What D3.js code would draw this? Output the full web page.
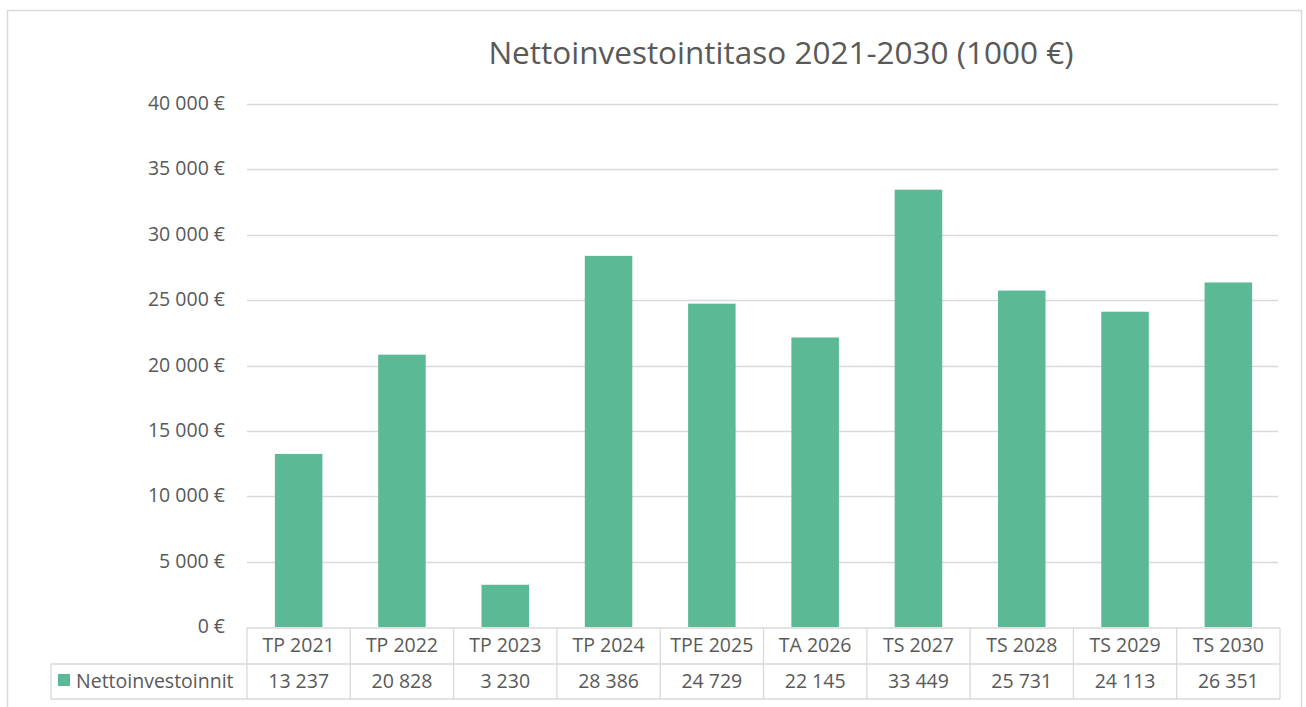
<!DOCTYPE html>
<html>
<head>
<meta charset="utf-8">
<script src="https://cdn.jsdelivr.net/npm/d3@7"></script>
<style>
  body { margin: 0; background: #fff; }
  svg { display: block; font-family: "Open Sans", "Noto Sans", sans-serif; }
</style>
</head>
<body>
<svg id="chart" width="1306" height="707"></svg>
<script>
// chart data
var categories = ["TP 2021", "TP 2022", "TP 2023", "TP 2024", "TPE 2025", "TA 2026", "TS 2027", "TS 2028", "TS 2029", "TS 2030"];
var values = [13237, 20828, 3230, 28386, 24729, 22145, 33449, 25731, 24113, 26351];
var valueLabels = ["13 237", "20 828", "3 230", "28 386", "24 729", "22 145", "33 449", "25 731", "24 113", "26 351"];
var yTicks = [0, 5000, 10000, 15000, 20000, 25000, 30000, 35000, 40000];
var seriesName = "Nettoinvestoinnit";
var title = "Nettoinvestointitaso 2021-2030 (1000 €)";

var svg = d3.select("#chart");
var textColor = "#595959", gridColor = "#d9d9d9", barColor = "#5cb995";

// outer frame
svg.append("rect")
    .attr("x", 7.5).attr("y", 10.5)
    .attr("width", 1294).attr("height", 710)
    .attr("fill", "none").attr("stroke", gridColor).attr("stroke-width", 1.5);

// plot area edges
var plotLeft = 247, plotRight = 1280, plotTop = 104, plotBottom = 627;

var x = d3.scaleBand().domain(categories).range([plotLeft, plotRight]).paddingInner(0.54).paddingOuter(0.27);
var xCell = d3.scaleBand().domain(categories).range([plotLeft, plotRight]);
var y = d3.scaleLinear().domain([0, 40000]).range([plotBottom, plotTop]);

// title
svg.append("text")
    .attr("x", 781).attr("y", 64)
    .attr("text-anchor", "middle")
    .style("font-size", "31.5px")
    .style("fill", textColor)
    .text(title);

// gridlines
svg.append("g").selectAll("line")
    .data(yTicks.filter(function(d) { return d > 0; }))
    .enter().append("line")
    .attr("x1", plotLeft).attr("x2", 1278)
    .attr("y1", function(d) { return Math.round(y(d)) + 0.5; })
    .attr("y2", function(d) { return Math.round(y(d)) + 0.5; })
    .attr("stroke", gridColor).attr("stroke-width", 1.3);

// y axis labels
svg.append("g").selectAll("text")
    .data(yTicks)
    .enter().append("text")
    .attr("x", 225)
    .attr("y", function(d) { return y(d) + 6; })
    .attr("text-anchor", "end")
    .style("font-size", "19.5px")
    .style("fill", textColor)
    .text(function(d) { return d3.format(",")(d).replace(/,/g, " ") + " €"; });

// bars
svg.append("g").selectAll("rect")
    .data(values)
    .enter().append("rect")
    .attr("x", function(d, i) { return x(categories[i]); })
    .attr("width", x.bandwidth())
    .attr("y", function(d) { return y(d); })
    .attr("height", function(d) { return plotBottom - y(d); })
    .attr("fill", barColor);

// data table
var rowTop = 628, rowMid = 664, rowBot = 699, legendLeft = 51;
var table = svg.append("g").attr("stroke", gridColor).attr("stroke-width", 1.3).attr("fill", "none");
table.append("line").attr("x1", plotLeft).attr("x2", plotRight).attr("y1", rowTop).attr("y2", rowTop);
table.append("line").attr("x1", legendLeft).attr("x2", plotRight).attr("y1", rowMid).attr("y2", rowMid);
table.append("line").attr("x1", legendLeft).attr("x2", plotRight).attr("y1", rowBot).attr("y2", rowBot);
table.append("line").attr("x1", legendLeft).attr("x2", legendLeft).attr("y1", rowMid).attr("y2", rowBot);
table.selectAll("line.v")
    .data(categories.concat(["end"]))
    .enter().append("line")
    .attr("x1", function(d, i) { return plotLeft + i * xCell.bandwidth(); })
    .attr("x2", function(d, i) { return plotLeft + i * xCell.bandwidth(); })
    .attr("y1", rowTop).attr("y2", rowBot);

svg.append("g").selectAll("text")
    .data(categories)
    .enter().append("text")
    .attr("x", function(d) { return xCell(d) + xCell.bandwidth() / 2; })
    .attr("y", 652)
    .attr("text-anchor", "middle")
    .style("font-size", "19.5px")
    .style("fill", textColor)
    .text(function(d) { return d; });

svg.append("g").selectAll("text")
    .data(valueLabels)
    .enter().append("text")
    .attr("x", function(d, i) { return xCell(categories[i]) + xCell.bandwidth() / 2; })
    .attr("y", 688)
    .attr("text-anchor", "middle")
    .style("font-size", "19.5px")
    .style("fill", textColor)
    .text(function(d) { return d; });

// legend key
svg.append("rect")
    .attr("x", 58).attr("y", 674).attr("width", 12).attr("height", 12)
    .attr("fill", barColor);
svg.append("text")
    .attr("x", 76).attr("y", 688)
    .style("font-size", "19.5px")
    .style("fill", textColor)
    .text(seriesName);
</script>
</body>
</html>
